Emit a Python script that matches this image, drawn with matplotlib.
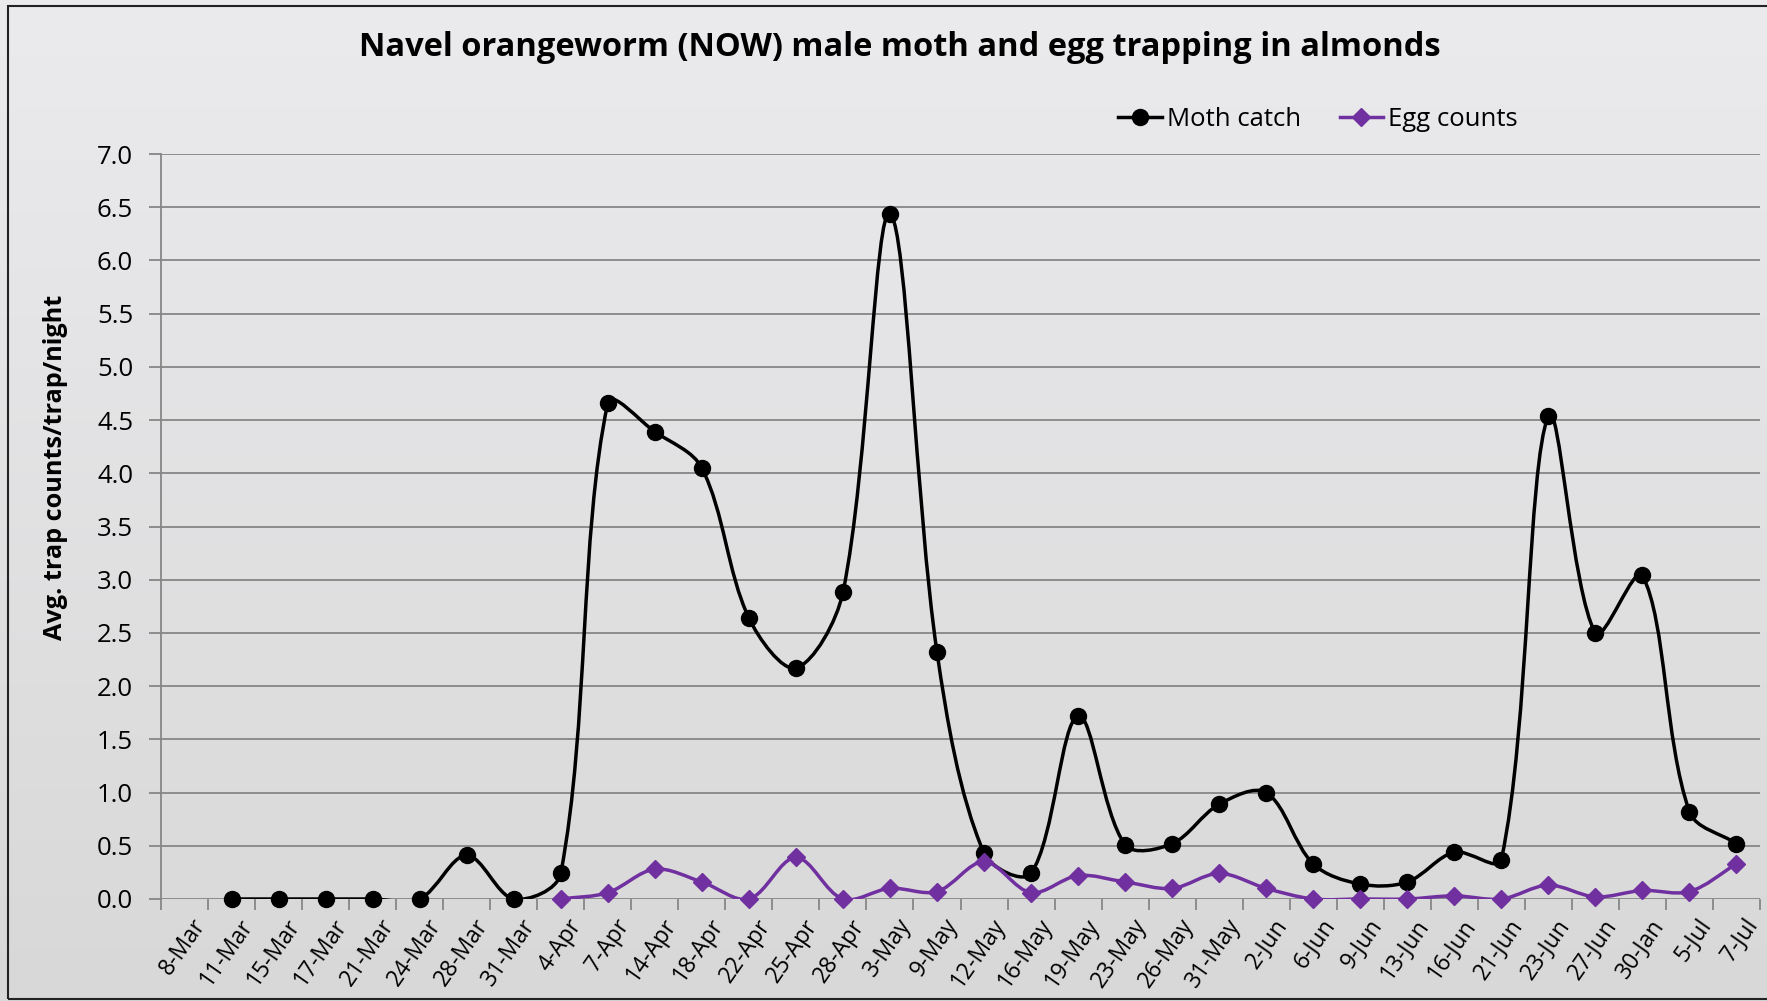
import numpy as np
import matplotlib
matplotlib.use('Agg')
import matplotlib.pyplot as plt
from matplotlib.path import Path
from matplotlib.patches import PathPatch, Rectangle
from matplotlib.lines import Line2D
from matplotlib.transforms import ScaledTranslation

plt.rcParams['font.family'] = ['Open Sans', 'DejaVu Sans']

# 数据
dates = ['8-Mar', '11-Mar', '15-Mar', '17-Mar', '21-Mar', '24-Mar', '28-Mar', '31-Mar',
         '4-Apr', '7-Apr', '14-Apr', '18-Apr', '22-Apr', '25-Apr', '28-Apr', '3-May',
         '9-May', '12-May', '16-May', '19-May', '23-May', '26-May', '31-May', '2-Jun',
         '6-Jun', '9-Jun', '13-Jun', '16-Jun', '21-Jun', '23-Jun', '27-Jun', '30-Jan',
         '5-Jul', '7-Jul']
moth_catch = [None, 0, 0, 0, 0, 0, 0.41, 0,
              0.24, 4.66, 4.39, 4.05, 2.64, 2.17, 2.88, 6.44,
              2.32, 0.43, 0.24, 1.72, 0.51, 0.52, 0.89, 1.00,
              0.33, 0.14, 0.16, 0.44, 0.37, 4.54, 2.50, 3.04,
              0.82, 0.52]
egg_counts = [None, None, None, None, None, None, None, None,
              0, 0.06, 0.28, 0.16, 0, 0.39, 0, 0.10,
              0.07, 0.35, 0.06, 0.22, 0.16, 0.10, 0.24, 0.10,
              0, 0, 0, 0.03, 0, 0.13, 0.02, 0.08,
              0.07, 0.33]

W, H = 1767, 1001
ax_rect = [161 / W, 102 / H, 1599 / W, 745 / H]
YMAX = 7.0
# 屏幕上每单位的像素 (用于平滑曲线的弦长权重)
sx = 1599 / len(dates)
sy = 745 / YMAX


def smooth_path(xs, ys):
    # Excel风格的平滑曲线: 按弦长加权的Bezier
    pts = np.column_stack([xs, ys])
    scr = pts * np.array([sx, sy])
    n = len(pts)
    verts = [pts[0]]
    codes = [Path.MOVETO]
    for i in range(n - 1):
        i0, i3 = max(i - 1, 0), min(i + 2, n - 1)
        d01 = np.hypot(*(scr[i] - scr[i0]))
        d12 = np.hypot(*(scr[i + 1] - scr[i]))
        d23 = np.hypot(*(scr[i3] - scr[i + 1]))
        c1 = pts[i] + (pts[i + 1] - pts[i0]) * d12 / (3 * (d01 + d12))
        c2 = pts[i + 1] - (pts[i3] - pts[i]) * d12 / (3 * (d12 + d23))
        verts += [c1, c2, pts[i + 1]]
        codes += [Path.CURVE4] * 3
    return Path(verts, codes)


def draw_series(ax, values, color, lw, marker, ms):
    x = np.arange(len(values))
    y = np.array([np.nan if v is None else v for v in values], dtype=float)
    ok = ~np.isnan(y)
    start = None
    for i in range(len(y) + 1):
        if i < len(y) and ok[i]:
            if start is None:
                start = i
        else:
            if start is not None and i - start > 1:
                p = smooth_path(x[start:i], y[start:i])
                ax.add_patch(PathPatch(p, facecolor='none', edgecolor=color, lw=lw,
                                       zorder=3, capstyle='round', joinstyle='round'))
            start = None
    ax.plot(x[ok], y[ok], linestyle='none', marker=marker, color=color,
            markersize=ms, zorder=4, clip_on=False)


fig = plt.figure(figsize=(W / 100, H / 100), dpi=100)

# 渐变背景
bg = fig.add_axes([0, 0, 1, 1], zorder=-10)
grad = np.linspace(0, 1, 256).reshape(-1, 1)
top = np.array([235, 235, 238]) / 255.0
bot = np.array([216, 216, 216]) / 255.0
img = top[None, None, :] * (1 - grad[:, :, None]) + bot[None, None, :] * grad[:, :, None]
bg.imshow(img, aspect='auto', extent=[0, 1, 0, 1])
bg.axis('off')
fig.patches.append(Rectangle((8 / W, 2 / H), 1.1, 993 / H, transform=fig.transFigure,
                             fill=False, edgecolor='#222222', lw=1.5))

ax = fig.add_axes(ax_rect)
ax.patch.set_alpha(0)

draw_series(ax, moth_catch, 'black', 2.5, 'o', 11.5)
draw_series(ax, egg_counts, '#7030A0', 2.5, 'D', 9)

ax.set_xlim(-0.5, len(dates) - 0.5)
ax.set_ylim(0, YMAX)
yt = np.arange(0, YMAX + 0.01, 0.5)
ax.set_yticks(yt)
ax.set_yticklabels(['%.1f' % v for v in yt])
ax.yaxis.grid(True, color='#868686', lw=1.3)
ax.set_axisbelow(True)

ax.set_xticks(np.arange(len(dates)))
ax.set_xticklabels(dates, rotation=55, ha='right', va='top', rotation_mode='anchor', fontsize=16.5)
ax.tick_params(axis='x', length=0, pad=11)
for lab in ax.get_xticklabels():
    lab.set_transform(lab.get_transform() + ScaledTranslation(0.07, 0, fig.dpi_scale_trans))
ax.set_xticks(np.arange(-0.5, len(dates), 1), minor=True)
ax.tick_params(axis='x', which='minor', length=8, color='#868686', width=1.3)
ax.tick_params(axis='y', length=9, color='#868686', width=1.3, labelsize=18.5, pad=11)

for s in ['top', 'right', 'bottom']:
    ax.spines[s].set_visible(False)
ax.spines['left'].set_color('#868686')
ax.spines['left'].set_linewidth(1.3)

fig.text(56 / W, 1 - 467 / H, 'Avg. trap counts/trap/night', rotation=90,
         ha='center', va='center', fontsize=18.2, fontweight='bold')

fig.text(900 / W, 1 - 47 / H, 'Navel orangeworm (NOW) male moth and egg trapping in almonds',
         ha='center', va='center', fontsize=23.5, fontweight='bold')

handles = [Line2D([], [], color='black', lw=2.5, marker='o', markersize=11.5),
           Line2D([], [], color='#7030A0', lw=2.5, marker='D', markersize=9)]
fig.legend(handles, ['Moth catch', 'Egg counts'], loc='center',
           bbox_to_anchor=(1318 / W, 1 - 119 / H), ncol=2, frameon=False,
           fontsize=18.5, handlelength=1.7, handletextpad=0.2, columnspacing=1.5)

plt.savefig('out.png', dpi=100)
